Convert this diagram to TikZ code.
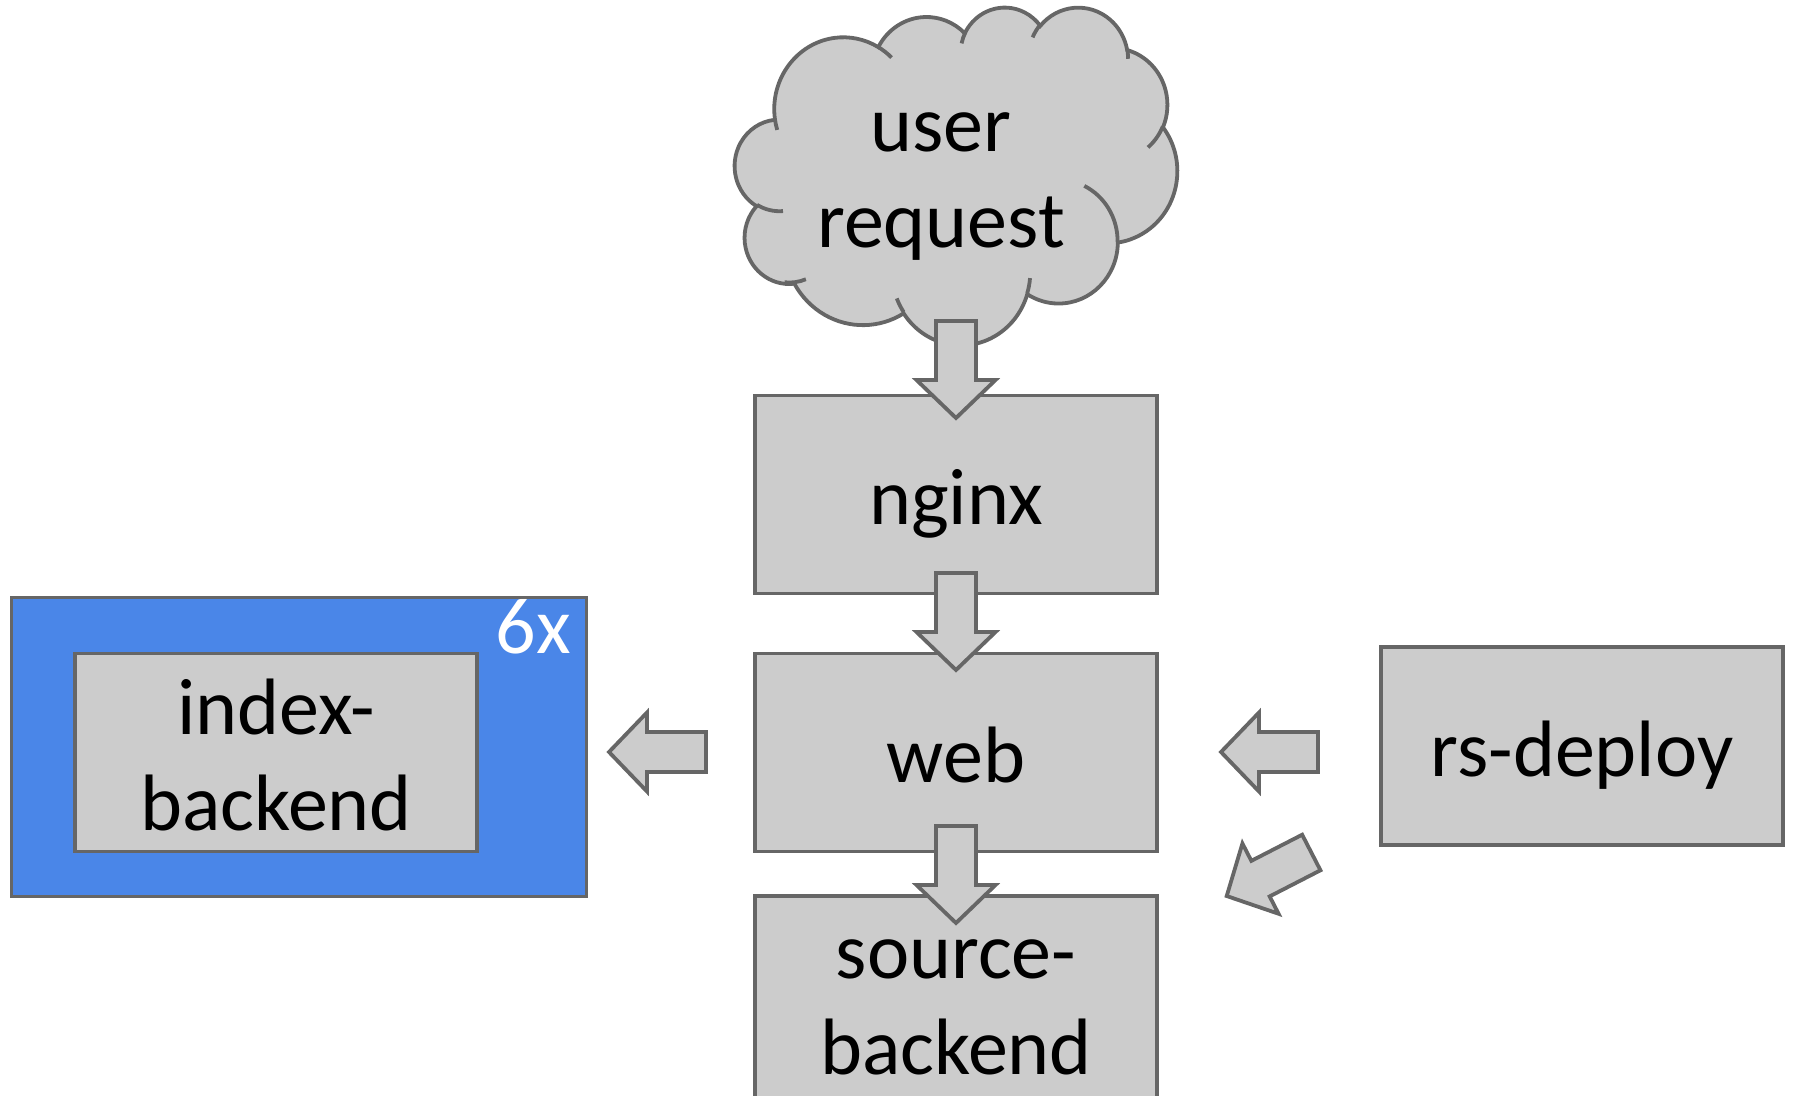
\documentclass[tikz,border=0pt]{standalone}
\usepackage{fontspec}
\setmainfont{Carlito}
\usetikzlibrary{calc}

\definecolor{boxfill}{HTML}{CCCCCC}
\definecolor{edgegray}{HTML}{666666}
\definecolor{tierblue}{HTML}{4A86E8}

\newcommand\bigfont{\fontsize{80pt}{96pt}\selectfont}
% two centred lines; the box baseline is the baseline of the second line
\newcommand\twolines[2]{\vbox{\halign{\hfil##\hfil\cr #1\cr #2\cr}}}

% elliptical arc continuing from the current point, given by radii,
% visual start angle and visual sweep (DrawingML arcTo convention)
\newcommand\ooarc[4]{arc[x radius=#1, y radius=#2,
  start angle={atan2((#1)*sin(#3),(#2)*cos(#3))},
  delta angle={(#4)+mod(atan2((#1)*sin((#3)+(#4)),(#2)*cos((#3)+(#4)))-atan2((#1)*sin(#3),(#2)*cos(#3))-(#4)+1260,360)-180}]}

% wide block arrow from a tail coordinate to a tip coordinate
\newcommand\blockarrow[2]{%
  \coordinate (hb) at ($(#2)!38pt!(#1)$);
  \draw[blockarrowstyle]
    ($(#1)!20pt!90:(#2)$) -- ($(hb)!20pt!90:(#2)$) -- ($(hb)!39.5pt!90:(#2)$)
    -- (#2)
    -- ($(hb)!39.5pt!-90:(#2)$) -- ($(hb)!20pt!-90:(#2)$) -- ($(#1)!20pt!-90:(#2)$)
    -- cycle;}

\begin{document}
\begin{tikzpicture}[x=1pt, y=-1pt,
  outline/.style={draw=edgegray, line width=3.8pt},
  box/.style={outline, fill=boxfill, minimum width=401.5pt, minimum height=198pt,
    inner sep=0pt, font=\bigfont, text height=60pt, text depth=0pt},
  twoline/.style={text height=156pt},
  blockarrowstyle/.style={outline, fill=boxfill},
  cloudfill/.style={outline, fill=boxfill},
  cloudedge/.style={outline}]

\useasboundingbox (0,0) rectangle (1793,1095);
\clip (0,0) rectangle (1793,1095);

% replicated index tier
\node[outline, fill=tierblue, minimum width=575pt, minimum height=299pt, inner sep=0pt]
  (tier) at (299,747) {};
\node[box, twoline] (index) at (276,752.5) {\twolines{index-}{backend}};
\node[font=\bigfont, text=white, inner sep=0pt, anchor=base east] (count) at (571,653) {6x};

% cloud outline
\begin{scope}[shift={(734.95pt,-6.48pt)}, x=1.0236pt, y=-0.7816pt]
  \filldraw[cloudfill] (39.00,143.70)
    \ooarc{67.53}{91.90}{-190.48748}{123.78053}
    \ooarc{53.33}{72.67}{-144.10238}{89.94523}
    \ooarc{43.65}{59.45}{-145.80792}{99.72302}
    \ooarc{48.57}{65.95}{-130.98607}{117.24173}
    \ooarc{53.33}{72.73}{-78.70888}{109.02692}
    \ooarc{67.75}{92.20}{-46.26725}{130.269}
    \ooarc{57.85}{78.67}{0.62502}{114.03333}
    \ooarc{67.52}{92.15}{22.4516}{115.17255}
    \ooarc{77.20}{105.43}{66.24263}{75.71102}
    \ooarc{43.60}{59.18}{-274.94208}{146.73557}
    \ooarc{43.45}{59.45}{-246.8285}{152.51885}
    -- cycle;
  \draw[cloudedge]
    (46.93,261.77) \ooarc{43.45}{59.45}{86.742}{26.4295}
    (69.28,348.99) \ooarc{43.60}{59.18}{73.61047}{20.9345}
    (164.78,390.90) \ooarc{67.52}{92.15}{137.62415}{14.07915}
    (288.27,347.51) \ooarc{67.52}{92.15}{6.45327}{15.99835}
    (341.29,229.54) \ooarc{57.85}{78.67}{-70.29235}{70.91737}
    (417.98,153.54) \ooarc{53.33}{72.73}{30.31803}{27.7515}
    (383.24,54.26) \ooarc{48.57}{65.95}{-13.74433}{14.86598}
    (290.78,39.52) \ooarc{48.57}{65.95}{-149.18145}{18.19025}
    (221.41,47.20) \ooarc{43.65}{59.45}{-163.49427}{17.6875}
    (140.00,51.92) \ooarc{67.53}{91.90}{-66.70695}{12.31935}
    (41.27,157.89) \ooarc{67.53}{91.90}{157.65435}{11.85817};
\end{scope}
\node[font=\bigfont, inner sep=0pt, anchor=base] (user) at (941,247) {\twolines{user}{request}};

% service chain
\node[box] (nginx) at (956,494.5) {nginx};
\node[box] (web) at (956,752.5) {web};
\node[box, minimum height=260pt, text height=96pt] (source) at (956,1026) {\twolines{source-}{backend}};
\node[box] (deploy) at (1582,746) {rs-deploy};

% arrow end points
\coordinate (a1tail) at (956,321);   \coordinate (a1tip) at (956,418);
\coordinate (a2tail) at (956,573);   \coordinate (a2tip) at (956,670);
\coordinate (a3tail) at (956,826);   \coordinate (a3tip) at (956,923);
\coordinate (a4tail) at (706,752);   \coordinate (a4tip) at (609,752);
\coordinate (a5tail) at (1318,752);  \coordinate (a5tip) at (1221,752);
\coordinate (a6tail) at (1311.3,852.5); \coordinate (a6tip) at (1226.7,896);

\blockarrow{a1tail}{a1tip}
\blockarrow{a2tail}{a2tip}
\blockarrow{a3tail}{a3tip}
\blockarrow{a4tail}{a4tip}
\blockarrow{a5tail}{a5tip}
\blockarrow{a6tail}{a6tip}

\end{tikzpicture}
\end{document}
